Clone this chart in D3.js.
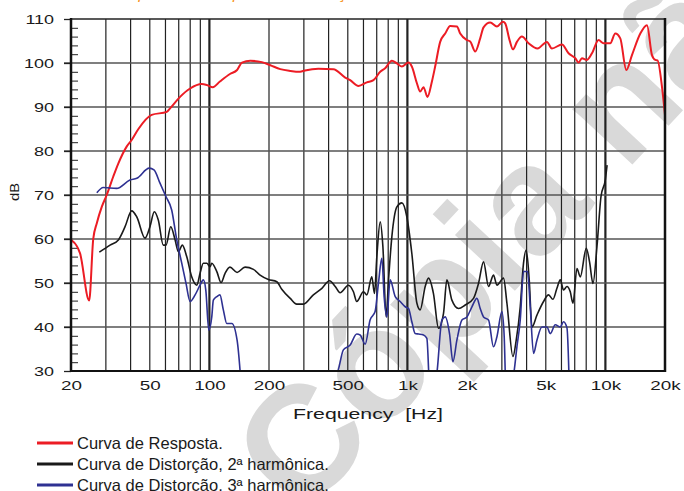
<!DOCTYPE html>
<html>
<head>
<meta charset="utf-8">
<script src="https://cdn.jsdelivr.net/npm/d3@7"></script>
<style>
  body { margin: 0; background: #fff; }
  text { font-family: "Liberation Sans", Arial, sans-serif; }
</style>
</head>
<body>
<svg id="chart" width="684" height="491"></svg>
<script>
// response curve
var freqResp = [20,22.2,24.7,25.9,27,28.6,30.3,32.7,34.7,38.2,40.5,43.8,51.1,60.9,63.3,71.1,79.9,91.5,97,104,
  113,127,138,146,161,184,203,228,256,287,304,355,423,485,514,566,624,674,729,772,
  835,885,938,1013,1053,1117,1160,1206,1263,1330,1381,1464,1552,1645,1778,1848,1998,2076,2200,2332,
  2424,2620,2833,3037,3119,3281,3412,3574,3788,4091,4543,5068,5370,6034,6515,7042,7317,7612,8069,8555,
  9236,9790,10580,11220,11890,12750,13620,15010,16220,17190,17870,18340,19310,20000];
var dbResp = [59.8,56.8,46,60,63.6,67.3,70,74.2,77.2,81,82.5,85,88.2,88.9,89.7,92.3,94.2,95.2,95,94.5,
  95.8,97.5,98.4,100.1,100.5,100.2,99.5,98.6,98.2,98,98.3,98.7,98.6,96.7,96.1,94.8,95.6,96.1,98,98.8,
  100.5,99.9,99.2,100.1,99.2,95.4,93.5,94.5,92.3,95.8,99.2,104.8,106.7,108.4,108.3,106.7,105.2,104.9,102.6,105.6,
  108.1,109.2,108.3,109.4,109,105.2,103.1,104.8,106,104.5,103.3,104.8,103.3,104.2,102.2,101.1,100.1,101.1,100.7,102.2,
  105.2,104.5,104.5,106.7,105.6,98.4,101.8,106.7,108.6,101.8,100.7,100.6,94.6,88.2];

// 2nd harmonic distortion
var freqH2 = [27.8,31.5,34.7,37.5,40.5,43,47.3,50.1,52.7,55.2,58.5,60.4,63.8,67.1,69.7,73,76.8,81.4,86.4,89.7,
  93.2,97,100.8,102.8,109,114.6,120,127,138,151.4,166.9,180.3,198.6,219,232,256,276,298.5,335,370,
  404,432,457,504,534,555,600,624,661,682,701,729,752,781,803,835,885,938,994,1053,
  1117,1160,1230,1278,1354,1436,1522,1583,1678,1812,1959,2157,2286,2424,2569,2722,2833,3058,3182,3412,
  3545,3715,3859,3983,4124,4256,4510,4871,5163,5435,5692,5916,6147,6396,6646,6858,7185,7466,8006,8318,
  8655,9067,9498,9984,10200];
var dbH2 = [57,58.6,59.8,62.8,66.4,65,60.2,62.8,66.2,64.3,58.6,58.6,62.8,59.8,57.1,58.6,56,51.4,49.5,52.2,
  54.5,54.5,53.7,54.5,52.6,50.1,52.2,53.6,52.4,53.6,53.1,51.8,50.8,50.3,48.6,46.5,45.2,45.2,47.3,48.8,
  50.5,49.2,47.8,49.5,48,45.8,48,47.3,51.4,47.6,56,63.9,58.3,42.3,50.7,60.6,67.3,68.2,65,56.7,
  45.4,43.9,49.2,51.1,47.6,39.7,43.1,50.7,46.1,44.2,45,46.5,49.9,54.8,49.2,51.8,49.5,51.1,45.4,33.3,
  37,44.6,54.5,57.5,50.7,40,42.7,45.8,47.3,46.3,48.8,50.7,48.4,49.2,48,45.4,53.3,51.4,57.9,54.8,
  49.9,58.3,69.6,73.4,76.8];

// 3rd harmonic distortion (values under 30 dB fall off the chart)
var freqH3 = [27,29.1,34,39.7,43,49.7,52.5,56.3,60.4,64.5,68.4,72.5,76.2,79.9,84.7,89.7,93.2,95.9,99.3,102.8,
  104.7,109,113,117.6,122.4,129.8,138,142.9,146,
  440,475,514,555,577,612,648,687,714,743,763,788,818,868,919,975,1013,1053,1095,1138,
  1206,1254,1304,1409,1494,1552,1632,1698,1778,1885,1998,2118,2244,2332,2424,2569,2722,2833,3001,3083,
  3156,3436,3574,3715,3859,4044,4173,4336,4510,4781,5068,5266,5581,5916,6147,6396,6593];
var dbH3 = [70.5,71.7,71.5,73.4,73.8,76.1,75.7,72.7,69.6,66.6,59.8,54.5,49.9,45.8,47.3,49.5,50.7,48.4,39.3,42.3,
  46.1,46.9,47.3,43.9,40.8,40.8,37,30,24,
  29.5,34.8,35.9,38.4,38.2,36.1,41.6,43.5,49.9,55.6,46.9,42.3,50.7,46.9,45.8,44.6,44.2,41.2,38.5,38.4,
  38.2,37.4,24,29.5,41.6,42.3,38.5,32.1,37,41.6,42.3,44.6,46.5,44.2,42.3,41.6,35.5,37.8,43.5,37.8,
  24,29,35.5,41.6,52.6,52.6,44.6,34,37,40,40,38.5,40.5,40,41.2,39.8,24];

var xTickFreqs = [20,50,100,200,500,1000,2000,5000,10000,20000];
var xTickLabels = ["20","50","100","200","500","1k","2k","5k","10k","20k"];
var yTicks = [30,40,50,60,70,80,90,100,110];

var seriesNames = ["Curva de Resposta.", "Curva de Distorção, 2ª harmônica.", "Curva de Distorção, 3ª harmônica."];
var seriesColors = ["#ec1c24", "#1a1a1a", "#2e3192"];

var width = 684, height = 491;
var plot = {left: 71, right: 665, top: 19, bottom: 371};

var x = d3.scaleLog().domain([20, 20000]).range([plot.left, plot.right]);
var y = d3.scaleLinear().domain([30, 110]).range([plot.bottom, plot.top]);

var svg = d3.select("#chart");

// stretch text horizontally (the original font is a wide one)
function stretch(sel, k) {
  sel.each(function() {
    var w = this.getComputedTextLength();
    d3.select(this).attr("textLength", w * k).attr("lengthAdjust", "spacingAndGlyphs");
  });
}

// watermark
svg.append("text")
    .attr("transform", "translate(302,519) rotate(-47)")
    .attr("fill", "#d9d9d9")
    .attr("font-size", 155)
    .attr("font-weight", "bold")
    .text("Cópia não controlada");

// cut-off title at the top
svg.append("text")
    .attr("x", 110).attr("y", -1)
    .attr("fill", "#f7941d")
    .attr("font-size", 16)
    .attr("font-style", "italic")
    .text("Resposta em frequência / Distorção harmônica /");

// vertical grid
var vTicks = x.ticks().filter(d => d > 20 && d < 20000);
svg.append("g").selectAll("line")
    .data(vTicks)
  .enter().append("line")
    .attr("x1", d => x(d)).attr("x2", d => x(d))
    .attr("y1", plot.top).attr("y2", plot.bottom)
    .attr("stroke", "#222")
    .attr("stroke-width", d => [100, 1000, 10000].includes(d) ? 2.2 : 1.2);

// horizontal grid (extends a little left of the axis)
svg.append("g").selectAll("line")
    .data(yTicks.filter(d => d > 30 && d < 110))
  .enter().append("line")
    .attr("x1", plot.left - 7).attr("x2", plot.right)
    .attr("y1", d => y(d)).attr("y2", d => y(d))
    .attr("stroke", "#555")
    .attr("stroke-width", 1.4);

// y axis labels + outer ticks
var yAxis = svg.append("g")
    .attr("transform", `translate(${plot.left},0)`)
    .call(d3.axisLeft(y).tickValues(yTicks).tickSize(7).tickPadding(10));
yAxis.select(".domain").remove();
yAxis.selectAll("line").attr("stroke", "#222").attr("stroke-width", 1.3);
yAxis.selectAll("text").attr("font-size", 13).attr("fill", "#1a1a1a")
    .attr("font-family", "'Liberation Sans', Arial, sans-serif");
stretch(yAxis.selectAll("text"), 1.38);

// inner minor ticks every 2 dB
var minor = d3.range(32, 110, 2).filter(d => d % 10 !== 0);
var yMinor = svg.append("g")
    .attr("transform", `translate(${plot.left},0)`)
    .call(d3.axisRight(y).tickValues(minor).tickSize(7).tickFormat(""));
yMinor.select(".domain").remove();
yMinor.selectAll("line").attr("stroke", "#222").attr("stroke-width", 1);

// x axis labels
var xAxis = svg.append("g")
    .attr("transform", `translate(0,${plot.bottom})`)
    .call(d3.axisBottom(x).tickValues(xTickFreqs).tickSize(0).tickPadding(10)
      .tickFormat((d, i) => xTickLabels[i]));
xAxis.select(".domain").remove();
xAxis.selectAll("text").attr("font-size", 13).attr("fill", "#1a1a1a")
    .attr("font-family", "'Liberation Sans', Arial, sans-serif");
stretch(xAxis.selectAll("text"), 1.45);

// curves
svg.append("clipPath").attr("id", "clip")
  .append("rect")
    .attr("x", plot.left).attr("y", plot.top)
    .attr("width", plot.right - plot.left).attr("height", plot.bottom - plot.top);

var line = d3.line()
    .x(d => x(d[0]))
    .y(d => y(d[1]))
    .curve(d3.curveMonotoneX);

var curves = [
  {f: freqResp, v: dbResp, w: 2},
  {f: freqH2, v: dbH2, w: 1.6},
  {f: freqH3, v: dbH3, w: 1.6}
];

svg.append("g").attr("clip-path", "url(#clip)")
  .selectAll("path")
    .data(curves)
  .enter().append("path")
    .attr("fill", "none")
    .attr("stroke", (d, i) => seriesColors[i])
    .attr("stroke-width", d => d.w)
    .attr("stroke-linejoin", "round")
    .attr("d", d => line(d.f.map((f, i) => [f, d.v[i]])));

// frame
svg.append("line").attr("x1", plot.left).attr("x2", plot.right).attr("y1", plot.top).attr("y2", plot.top)
    .attr("stroke", "#222").attr("stroke-width", 1.6);
svg.append("line").attr("x1", plot.left).attr("x2", plot.right).attr("y1", plot.bottom).attr("y2", plot.bottom)
    .attr("stroke", "#111").attr("stroke-width", 2);
svg.append("line").attr("x1", plot.left).attr("x2", plot.left).attr("y1", plot.top - 1).attr("y2", plot.bottom + 1)
    .attr("stroke", "#111").attr("stroke-width", 2.5);
svg.append("line").attr("x1", plot.right).attr("x2", plot.right).attr("y1", plot.top - 1).attr("y2", plot.bottom + 1)
    .attr("stroke", "#111").attr("stroke-width", 2.5);

// axis titles
var xTitle = svg.append("text")
    .attr("x", (plot.left + plot.right) / 2).attr("y", 419)
    .attr("text-anchor", "middle")
    .attr("font-size", 14.5)
    .attr("fill", "#1a1a1a")
    .style("white-space", "pre")
    .text("Frequency  [Hz]");
xTitle.attr("textLength", 150).attr("lengthAdjust", "spacingAndGlyphs");

svg.append("text")
    .attr("transform", "translate(19,192) rotate(-90)")
    .attr("text-anchor", "middle")
    .attr("font-size", 12)
    .attr("fill", "#1a1a1a")
    .attr("textLength", 18).attr("lengthAdjust", "spacingAndGlyphs")
    .text("dB");

// legend
var legend = svg.append("g").selectAll("g")
    .data(seriesNames)
  .enter().append("g")
    .attr("transform", (d, i) => `translate(37,${443 + i * 21})`);
legend.append("line")
    .attr("x1", 0).attr("x2", 36)
    .attr("stroke", (d, i) => seriesColors[i])
    .attr("stroke-width", 3);
legend.append("text")
    .attr("x", 40).attr("y", 5.5)
    .attr("font-size", 16.5)
    .attr("fill", "#1a1a1a")
    .text(d => d);
</script>
</body>
</html>
